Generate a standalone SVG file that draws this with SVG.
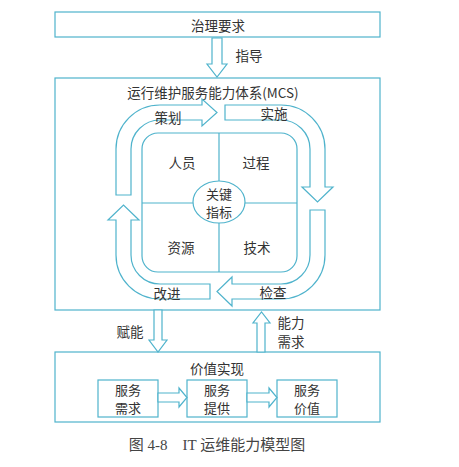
<svg xmlns="http://www.w3.org/2000/svg" width="459" height="467" viewBox="0 0 459 467">
<style>
.b{fill:none;stroke:#4fb3cc;stroke-width:1.2}
.a{fill:#fff;stroke:#4fb3cc;stroke-width:1.2;stroke-linejoin:miter}
.t{font-family:"Noto Sans CJK SC","Liberation Sans",sans-serif;font-size:13.5px;fill:#333;text-anchor:middle;dominant-baseline:central}
.s{font-size:13px}
.c{font-family:"Liberation Serif","Noto Sans CJK SC",serif;font-size:15px;fill:#444;text-anchor:middle;dominant-baseline:central}
</style>
<rect width="459" height="467" fill="#fff"/>
<g id="governance"><rect class="b" x="55" y="12" width="325" height="25"/><text class="t" x="218" y="25">治理要求</text></g>
<g id="mcs">
<rect class="b" x="55" y="78" width="325" height="232"/>
<text class="t" x="213" y="92">运行维护服务能力体系(MCS)</text>
</g>
<g id="core">
<rect class="b" x="142" y="133" width="155" height="139" rx="16"/>
<line class="b" x1="219" y1="133" x2="219" y2="181"/>
<line class="b" x1="219" y1="223" x2="219" y2="272"/>
<line class="b" x1="142" y1="203" x2="193" y2="203"/>
<line class="b" x1="245" y1="203" x2="297" y2="203"/>
<text class="t" x="182" y="162">人员</text>
<text class="t" x="256" y="162">过程</text>
<text class="t" x="181" y="247">资源</text>
<text class="t" x="257" y="247">技术</text>
</g>
<g id="kpi"><ellipse class="b" cx="219" cy="202" rx="26" ry="21"/><text class="t s" x="219" y="193">关键</text><text class="t s" x="219" y="211">指标</text></g>
<g id="value">
<rect class="b" x="55" y="352" width="325" height="70"/>
<text class="t" x="217" y="368">价值实现</text>
</g>
<g id="svc-demand"><rect class="b" x="98" y="380" width="60" height="37"/><text class="t s" x="128" y="389">服务</text><text class="t s" x="128" y="407">需求</text></g>
<g id="svc-provide"><rect class="b" x="187" y="380" width="60" height="37"/><text class="t s" x="217" y="389">服务</text><text class="t s" x="217" y="407">提供</text></g>
<g id="svc-value"><rect class="b" x="277" y="380" width="60" height="37"/><text class="t s" x="307" y="389">服务</text><text class="t s" x="307" y="407">价值</text></g>
<g id="connectors">
<path class="a" d="M212,38 L222,38 L222,64 L227,64 L217,77 L207,64 L212,64 Z"/>
<text class="t" x="249" y="55">指导</text>
<path class="a" d="M116,195 L116,149 A44,44 0 0 1 160,105 L202,105 L202,99 L217,112.5 L202,126 L202,120 L160,120 A29,29 0 0 0 131,149 L131,195 Z"/>
<path class="a" d="M225,105 L281,105 A44,44 0 0 1 325,149 L325,187 L333,187 L317.5,202 L302,187 L310,187 L310,149 A29,29 0 0 0 281,120 L225,120 Z"/>
<path class="a" d="M325,210 L325,255 A44,44 0 0 1 281,299 L232,299 L232,306 L217,291.5 L232,277 L232,284 L281,284 A29,29 0 0 0 310,255 L310,210 Z"/>
<path class="a" d="M210,299 L160,299 A44,44 0 0 1 116,255 L116,220 L108,220 L123.5,205 L139,220 L131,220 L131,255 A29,29 0 0 0 160,284 L210,284 Z"/>
<text class="t" x="168" y="117">策划</text>
<text class="t" x="274" y="113">实施</text>
<text class="t" x="273" y="292">检查</text>
<text class="t" x="167" y="293">改进</text>
<path class="a" d="M154,310 L162,310 L162,340 L167,340 L158,352 L149,340 L154,340 Z"/>
<text class="t" x="130" y="331">赋能</text>
<path class="a" d="M257,352 L265,352 L265,323 L270,323 L261.5,312 L253,323 L257,323 Z"/>
<text class="t" x="291" y="322">能力</text>
<text class="t" x="291" y="341">需求</text>
<path class="a" d="M158,393 L179,393 L179,388 L187,397.5 L179,407 L179,402 L158,402 Z"/>
<path class="a" d="M247,393 L269,393 L269,388 L277,397.5 L269,407 L269,402 L247,402 Z"/>
</g>
<text class="c" x="217" y="445" xml:space="preserve">图 4-8&#160;&#160;&#160;&#160;IT 运维能力模型图</text>
</svg>
